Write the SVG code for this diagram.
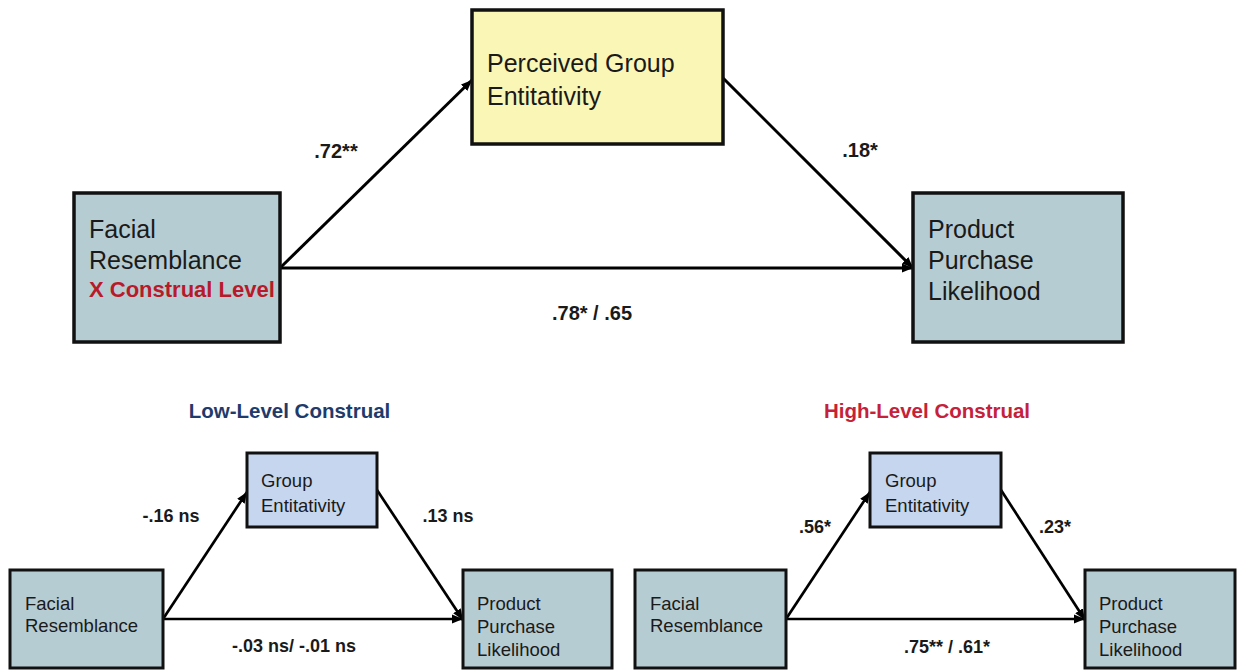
<svg xmlns="http://www.w3.org/2000/svg" width="1238" height="670" viewBox="0 0 1238 670">
<style>
  .box{stroke:#111;stroke-width:3.5}
  .sbox{stroke:#111;stroke-width:3}
  .teal{fill:#b6ccd3}
  .yellow{fill:#faf6b6}
  .lblue{fill:#c6d6ee}
  .big{font-family:"Liberation Sans",Arial,sans-serif;font-size:25px;fill:#1a1a1a}
  .small{font-family:"Liberation Sans",Arial,sans-serif;font-size:18.5px;fill:#1a1a1a}
  .red{font-family:"Liberation Sans",Arial,sans-serif;font-size:22px;font-weight:bold;fill:#b81a2a}
  .lab{font-family:"Liberation Sans",Arial,sans-serif;font-size:20px;font-weight:bold;fill:#1a1a1a;text-anchor:middle}
  .labs{font-family:"Liberation Sans",Arial,sans-serif;font-size:18px;font-weight:bold;fill:#1a1a1a;text-anchor:middle}
  .title{font-family:"Liberation Sans",Arial,sans-serif;font-size:20.5px;font-weight:bold;text-anchor:middle}
  .edge{stroke:#000;stroke-width:3;fill:none;marker-end:url(#ah)}
  .edges{stroke:#000;stroke-width:2.7;fill:none;marker-end:url(#ah)}
</style>
<defs>
  <marker id="ah" markerUnits="userSpaceOnUse" markerWidth="14" markerHeight="12" refX="11" refY="5" orient="auto">
    <path d="M0,0.5 L11,5 L0,9.5 Z" fill="#000"/>
  </marker>
</defs>
<rect width="1238" height="670" fill="#ffffff"/>

<g id="connectors">
  <line class="edge" x1="280" y1="268" x2="472" y2="80"/>
  <line class="edge" x1="723" y1="78" x2="913" y2="268"/>
  <line class="edge" x1="280" y1="268" x2="913" y2="268"/>
  <line class="edges" x1="163" y1="619" x2="247" y2="492"/>
  <line class="edges" x1="377" y1="490" x2="463" y2="620"/>
  <line class="edges" x1="163" y1="619" x2="463" y2="619"/>
  <line class="edges" x1="786" y1="619" x2="870" y2="492"/>
  <line class="edges" x1="1001" y1="490" x2="1085" y2="620"/>
  <line class="edges" x1="786" y1="619" x2="1085" y2="619"/>
</g>

<g id="labels">
  <text class="lab" x="336" y="158">.72**</text>
  <text class="lab" x="860" y="157">.18*</text>
  <text class="lab" x="592" y="320">.78* / .65</text>
  <text class="labs" x="171" y="522">-.16 ns</text>
  <text class="labs" x="448" y="522">.13 ns</text>
  <text class="labs" x="294" y="652">-.03 ns/ -.01 ns</text>
  <text class="labs" x="815" y="533">.56*</text>
  <text class="labs" x="1055" y="533">.23*</text>
  <text class="labs" x="947" y="653">.75** / .61*</text>
</g>

<g id="top-mediator">
  <rect class="box yellow" x="472" y="10" width="251" height="134"/>
  <text class="big" x="487" y="72">Perceived Group</text>
  <text class="big" x="487" y="105">Entitativity</text>
</g>
<g id="top-predictor">
  <rect class="box teal" x="74" y="193" width="206" height="149"/>
  <text class="big" x="89" y="238">Facial</text>
  <text class="big" x="89" y="269">Resemblance</text>
  <text class="red" x="89" y="297">X Construal Level</text>
</g>
<g id="top-outcome">
  <rect class="box teal" x="913" y="193" width="210" height="149"/>
  <text class="big" x="928" y="238">Product</text>
  <text class="big" x="928" y="269">Purchase</text>
  <text class="big" x="928" y="300">Likelihood</text>
</g>

<g id="low-title">
  <text class="title" x="289.5" y="418" fill="#1f3b6b">Low-Level Construal</text>
</g>
<g id="low-mediator">
  <rect class="sbox lblue" x="247" y="453" width="130" height="74"/>
  <text class="small" x="261" y="487">Group</text>
  <text class="small" x="261" y="512">Entitativity</text>
</g>
<g id="low-predictor">
  <rect class="sbox teal" x="10" y="570" width="153" height="98"/>
  <text class="small" x="25" y="610">Facial</text>
  <text class="small" x="25" y="632">Resemblance</text>
</g>
<g id="low-outcome">
  <rect class="sbox teal" x="463" y="570" width="149" height="98"/>
  <text class="small" x="477" y="610">Product</text>
  <text class="small" x="477" y="633">Purchase</text>
  <text class="small" x="477" y="656">Likelihood</text>
</g>

<g id="high-title">
  <text class="title" x="927" y="418" fill="#c6213a">High-Level Construal</text>
</g>
<g id="high-mediator">
  <rect class="sbox lblue" x="870" y="453" width="131" height="74"/>
  <text class="small" x="885" y="487">Group</text>
  <text class="small" x="885" y="512">Entitativity</text>
</g>
<g id="high-predictor">
  <rect class="sbox teal" x="635" y="570" width="151" height="98"/>
  <text class="small" x="650" y="610">Facial</text>
  <text class="small" x="650" y="632">Resemblance</text>
</g>
<g id="high-outcome">
  <rect class="sbox teal" x="1085" y="570" width="150" height="98"/>
  <text class="small" x="1099" y="610">Product</text>
  <text class="small" x="1099" y="633">Purchase</text>
  <text class="small" x="1099" y="656">Likelihood</text>
</g>
</svg>
